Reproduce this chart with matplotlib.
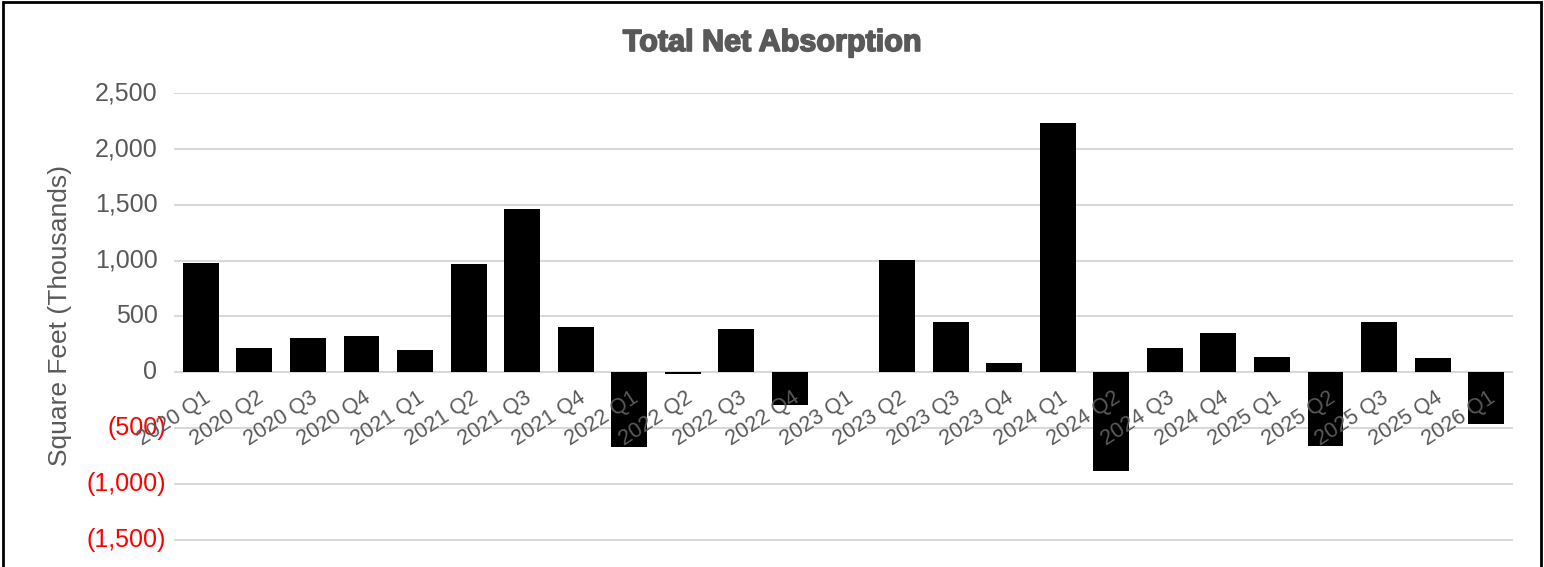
import matplotlib
matplotlib.use('Agg')
import matplotlib.pyplot as plt
import matplotlib.transforms as mtransforms
import matplotlib.patheffects as pe
from matplotlib.patches import Rectangle

# datos del gráfico (miles de pies cuadrados)
quarters = ['2020 Q1', '2020 Q2', '2020 Q3', '2020 Q4',
            '2021 Q1', '2021 Q2', '2021 Q3', '2021 Q4',
            '2022 Q1', '2022 Q2', '2022 Q3', '2022 Q4',
            '2023 Q1', '2023 Q2', '2023 Q3', '2023 Q4',
            '2024 Q1', '2024 Q2', '2024 Q3', '2024 Q4',
            '2025 Q1', '2025 Q2', '2025 Q3', '2025 Q4',
            '2026 Q1']
net_absorption = [978, 220, 306, 328,
                  198, 971, 1466, 405,
                  -668, -18, 386, -297,
                  0, 1007, 450, 81,
                  2230, -881, 222, 351,
                  135, -660, 450, 126,
                  -461]
y_ticks = [2500, 2000, 1500, 1000, 500, 0, -500, -1000, -1500]

plt.rcParams['font.family'] = ['Liberation Sans', 'DejaVu Sans']
gray = '#595959'

fig = plt.figure(figsize=(15.44, 5.67), dpi=100)
ax = fig.add_axes([174 / 1544, 0, (1513 - 174) / 1544, 1 - 93.3 / 567])

x = list(range(len(quarters)))
ax.bar(x, net_absorption, width=0.67, color='black', zorder=3)

ax.set_xlim(-0.5, len(quarters) - 0.5)
ax.set_ylim(-1745, 2500)
for spine in ax.spines.values():
    spine.set_visible(False)
ax.set_xticks([])
ax.set_yticks([])

# lineas de cuadricula
for t in y_ticks:
    ax.axhline(t, color='#d9d9d9', linewidth=1.5, zorder=1)

# etiquetas del eje y (negativos en rojo con paréntesis)
trans = mtransforms.blended_transform_factory(ax.transAxes, ax.transData)
for t in y_ticks:
    if t < 0:
        lbl = '({:,})'.format(-t)
        col = 'red'
        off = -8
    else:
        lbl = '{:,}'.format(t)
        col = gray
        off = -16.5
    ax.text(0, t, lbl, transform=trans + mtransforms.ScaledTranslation(off / 100, 0, fig.dpi_scale_trans),
            ha='right', va='center', fontsize=18, color=col)

# etiquetas de categoria, rotadas junto a la linea del cero
for i, q in enumerate(quarters):
    ax.annotate(q, xy=(i, 0), xytext=(1.5, -11), textcoords='offset points',
                rotation=33, rotation_mode='anchor', ha='right', va='top',
                fontsize=15.5, color=gray, zorder=4, annotation_clip=False)

fig.text(60 / 1544, 1 - 316 / 567, 'Square Feet (Thousands)', rotation=90,
         ha='center', va='center', fontsize=19, color=gray)
fig.text(0.5, 1 - 43 / 567, 'Total Net Absorption', ha='center', va='center',
         fontsize=22, fontweight='bold', color=gray,
         path_effects=[pe.withStroke(linewidth=1.2, foreground=gray)])

# borde exterior
fig.patches.append(Rectangle((0.002, -0.05), 0.996, 1.047, transform=fig.transFigure,
                             fill=False, edgecolor='black', linewidth=2))

fig.savefig('out.png', dpi=100)
